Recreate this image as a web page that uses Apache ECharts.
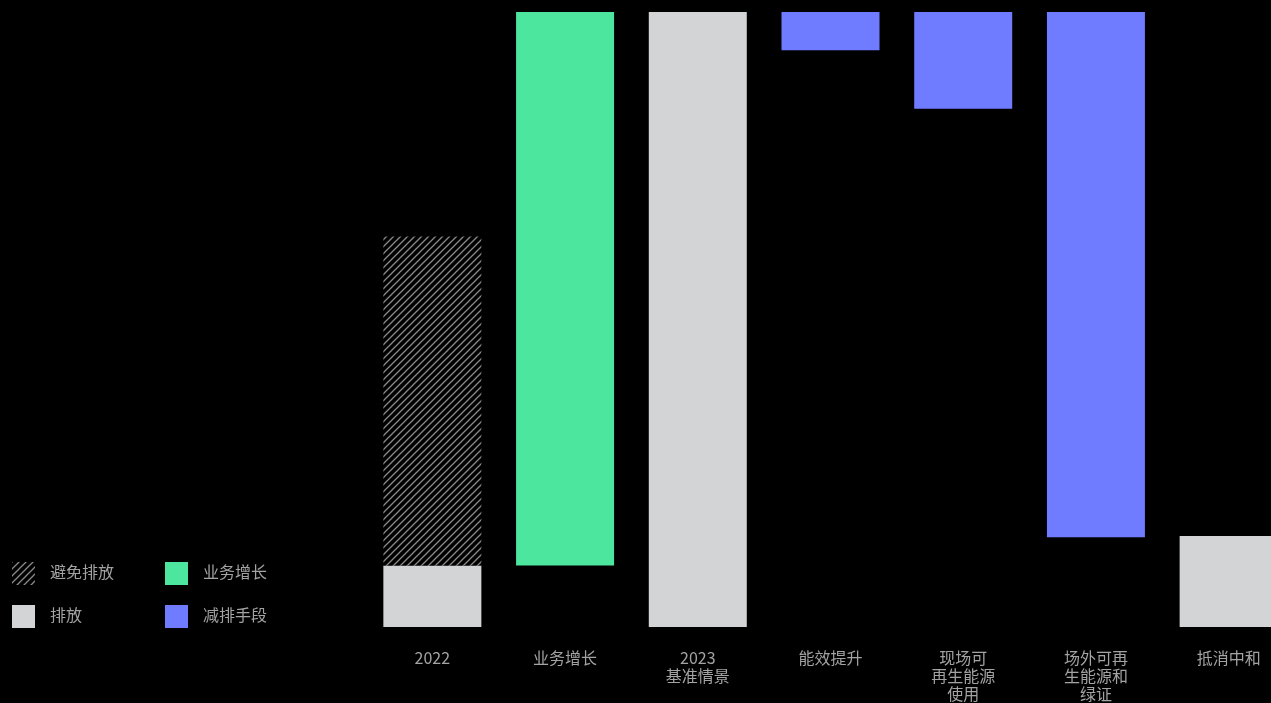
<!DOCTYPE html>
<html>
<head>
<meta charset="utf-8">
<script src="https://cdn.jsdelivr.net/npm/echarts@6/dist/echarts.min.js"></script>
<style>
html,body{margin:0;padding:0;background:#000;overflow:hidden;width:1271px;height:703px;}
#c{width:1295px;height:703px;}
</style>
</head>
<body>
<div id="c"></div>
<script>
const categories = ['2022', '业务增长', '2023\n基准情景', '能效提升', '现场可\n再生能源\n使用', '场外可再\n生能源和\n绿证', '抵消中和'];
const baseValues = [0, 10, 0, 93.8, 84.25, 14.6, 0];
const emissionValues = [10, '-', 100, '-', '-', '-', 14.8];
const avoidedValues = [53.5, '-', '-', '-', '-', '-', '-'];
const growthValues = ['-', 90, '-', '-', '-', '-', '-'];
const reductionValues = ['-', '-', '-', 6.2, 15.75, 85.4, '-'];
const legendItems = ['避免排放', '排放', '业务增长', '减排手段'];

const GREY = '#d3d4d6', GREEN = '#4ce69e', BLUE = '#6f7cff';

function makeHatch() {
  const s = 7;
  const cv = document.createElement('canvas');
  cv.width = s; cv.height = s;
  const ctx = cv.getContext('2d');
  ctx.fillStyle = '#000';
  ctx.fillRect(0, 0, s, s);
  ctx.strokeStyle = '#8a8a8a';
  ctx.lineWidth = 1.3;
  ctx.beginPath();
  ctx.moveTo(-1, s + 1); ctx.lineTo(s + 1, -1);
  ctx.moveTo(-1, 1); ctx.lineTo(1, -1);
  ctx.moveTo(s - 1, s + 1); ctx.lineTo(s + 1, s - 1);
  ctx.stroke();
  return cv;
}
const hatch = makeHatch();

const chart = echarts.init(document.getElementById('c'), null, {renderer: 'canvas', width: 1295, height: 703});
const barW = 98;
const textColor = '#a3a3a3';
const legendFont = '16px "Noto Sans CJK SC", sans-serif';

function legendGraphic() {
  const items = [
    {x: 12, y: 562, name: legendItems[0], fill: {image: hatch, repeat: 'repeat'}},
    {x: 12, y: 605, name: legendItems[1], fill: GREY},
    {x: 165, y: 562, name: legendItems[2], fill: GREEN},
    {x: 165, y: 605, name: legendItems[3], fill: BLUE}
  ];
  const g = [];
  items.forEach(it => {
    g.push({type: 'rect', left: it.x, top: it.y, shape: {width: 23, height: 23}, style: {fill: it.fill}});
    g.push({type: 'text', left: it.x + 38, top: it.y + 2, style: {text: it.name, fill: textColor, font: legendFont}});
  });
  return g;
}

chart.setOption({
  backgroundColor: '#000',
  animation: false,
  grid: {left: 366, right: 0, top: 12, bottom: 74},
  xAxis: {
    type: 'category',
    data: categories,
    axisLine: {show: false},
    axisTick: {show: false},
    axisLabel: {color: textColor, fontSize: 16, lineHeight: 18, margin: 22, interval: 0,
      fontFamily: '"Noto Sans CJK SC", sans-serif'}
  },
  yAxis: {type: 'value', min: 0, max: 100, show: false, splitLine: {show: false}},
  graphic: legendGraphic(),
  series: [
    {name: 'base', type: 'bar', stack: 't', barWidth: barW, data: baseValues, itemStyle: {color: 'transparent'}, silent: true},
    {name: '排放', type: 'bar', stack: 't', barWidth: barW, data: emissionValues, itemStyle: {color: GREY}},
    {name: '避免排放', type: 'bar', stack: 't', barWidth: barW, data: avoidedValues, itemStyle: {color: {image: hatch, repeat: 'repeat'}}},
    {name: '业务增长', type: 'bar', stack: 't', barWidth: barW, data: growthValues, itemStyle: {color: GREEN}},
    {name: '减排手段', type: 'bar', stack: 't', barWidth: barW, data: reductionValues, itemStyle: {color: BLUE}}
  ]
});
</script>
</body>
</html>
